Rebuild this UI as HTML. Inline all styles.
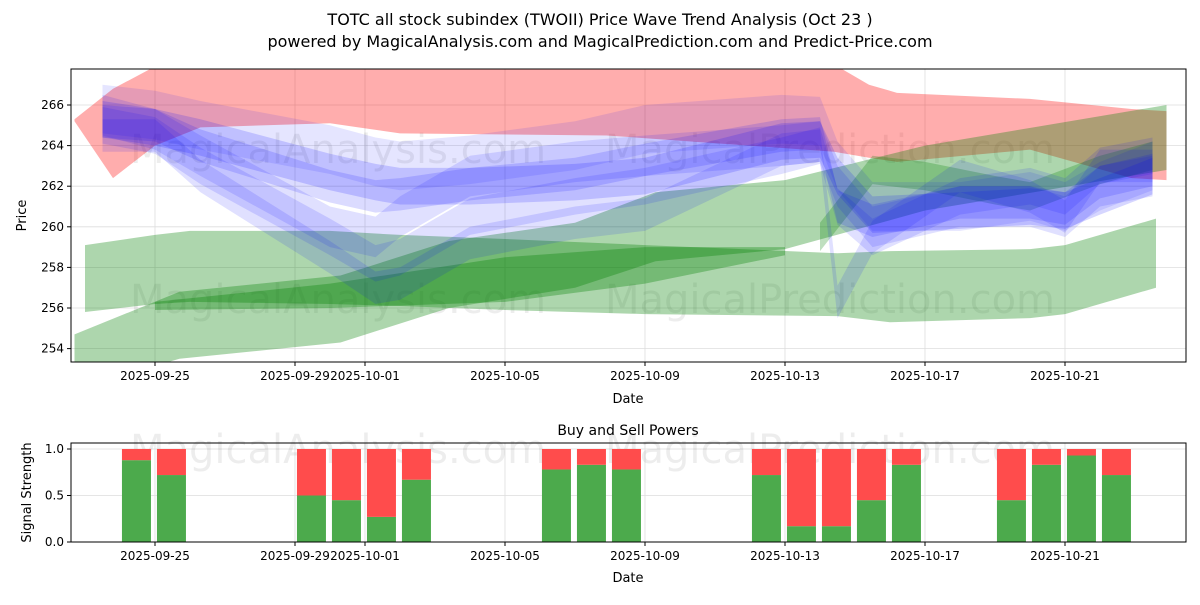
<!DOCTYPE html>
<html><head><meta charset="utf-8"><style>
body{margin:0;background:#fff;font-family:"Liberation Sans","DejaVu Sans",sans-serif;}
svg text{font-family:"DejaVu Sans","Liberation Sans",sans-serif;}
</style></head><body>
<svg id="c" width="1200" height="600" xmlns="http://www.w3.org/2000/svg">
<text x="600" y="25" font-size="16" text-anchor="middle">TOTC all stock subindex (TWOII) Price Wave Trend Analysis (Oct 23 )</text>
<text x="600" y="47" font-size="16" text-anchor="middle">powered by MagicalAnalysis.com and MagicalPrediction.com and Predict-Price.com</text>
<g id="main"></g>
<g id="sub"></g>
</svg>
<script>
// ---- data ----
const xTickLabels=["2025-09-25","2025-09-29","2025-10-01","2025-10-05","2025-10-09","2025-10-13","2025-10-17","2025-10-21"];
const xTickDays=[0,4,6,10,14,18,22,26];
const yTicks=[254,256,258,260,262,264,266];
const redDays=[-2.3,-1.2,0,1.3,5,7,12.9,19.4,20.4,21.2,25,27.9,28.9];
const redUpper=[265.3,266.8,267.9,268,268,268,268,268,267,266.6,266.3,265.8,265.7];
const redLower=[265.2,262.4,264,264.9,265.1,264.6,264.5,263.7,263.4,263.2,263.8,262.4,262.3];
const g1Days=[-2,0,1,5,7,10,14,19.5,21,25,26,28.6];
const g1Upper=[259.1,259.6,259.8,259.8,259.6,259.4,259.1,258.7,258.8,258.9,259.1,260.4];
const g1Lower=[255.8,256.2,256.3,256.2,256.1,255.9,255.7,255.6,255.3,255.5,255.7,257.0];
const g2Days=[-2.3,0.7,5.3,8.4,12,14.3,18,22,28.9];
const g2Upper=[254.7,256.8,257.6,259.3,260.2,261.7,262.3,264,266];
const g2Lower=[252,253.5,254.3,256,257,258.3,258.9,260.8,262.8];
const g3Days=[0,5,10,14,18];
const g3Upper=[256.3,257.2,258.5,259,259];
const g3Lower=[255.9,256.0,256.3,257.2,258.6];
const g4Days=[19,20.5,22,24,25,27,28.5];
const g4Center=[259.5,262.8,262.5,261.8,261.5,262.8,263.5];
const bDays=[-1.5,0,1.3,5,6.3,7,9,12,14,17.9,19,19.5,20.5,23,25,26,27,28.5];
const blue1=[265.3,264.9,264.4,262.7,262.2,262,262,262.2,262.5,264.2,264.3,262.5,260.6,260.8,261,260.8,261.5,262.5];
const blue2=[265.8,265.5,265,263.8,263.2,263,263.3,264,264.8,265.3,265.2,263,261,261,261.5,261,262,263];
const blue3=[265,264.5,263,259.5,258.2,258.5,260.5,261.5,262,263.5,264,261,259.5,261.5,262,261.5,263,263.5];
const blue4=[265.5,264.8,263.5,260,259.5,260.5,262.5,263.2,263.5,264,264.2,262,260,261,261,260.5,262,262.5];
const blue5=[264.5,264.5,262.5,258.5,257,257.2,259.2,260.2,260.6,263.8,264,256.3,259.5,262.5,261.5,260.5,263,263];
const blue6=[265.2,265,264,262,261.5,261.6,262.1,262.6,263.3,264.5,264.6,261,260.3,261.2,261.2,260.9,262.2,262.8];
const barDays=[0,1,5,6,7,8,12,13,14,18,19,20,21,22,25,26,27,28];
const buyVals=[0.88,0.72,0.5,0.45,0.27,0.67,0.78,0.83,0.78,0.72,0.17,0.17,0.45,0.83,0.45,0.83,0.93,0.72];
const subTicks=[0,0.5,1.0];
// ---- axes ----
const L=71,R=1186,T=69,B=362;
const X=d=>155+d*35;
const Y=v=>105+(266-v)*20.3;
const sT=443,sB=542;
const SY=v=>542-v*93;
const NS="http://www.w3.org/2000/svg";
function mk(tag,attrs,parent){const e=document.createElementNS(NS,tag);for(const k in attrs)e.setAttribute(k,attrs[k]);parent.appendChild(e);return e;}
const main=document.getElementById('main'),sub=document.getElementById('sub');
mk('defs',{},main).innerHTML='<clipPath id="cp"><rect x="71" y="69" width="1115" height="293"/></clipPath>';
xTickDays.forEach((d,i)=>{
 let g=mk('line',{x1:X(d),x2:X(d),y1:T,y2:B,stroke:'#ddd','stroke-width':0.8},main);
 
 mk('line',{x1:X(d),x2:X(d),y1:B,y2:B+4,stroke:'#000'},main);
 let t=mk('text',{x:X(d),y:B+18,'font-size':12,'text-anchor':'middle'},main);t.textContent=xTickLabels[i];
 
 let g2=mk('line',{x1:X(d),x2:X(d),y1:sT,y2:sB,stroke:'#ddd','stroke-width':0.8},sub);
 
 mk('line',{x1:X(d),x2:X(d),y1:sB,y2:sB+4,stroke:'#000'},sub);
 let t2=mk('text',{x:X(d),y:sB+18,'font-size':12,'text-anchor':'middle'},sub);t2.textContent=xTickLabels[i];
 
});
yTicks.forEach(v=>{
 let g=mk('line',{x1:L,x2:R,y1:Y(v),y2:Y(v),stroke:'#ddd','stroke-width':0.8},main);
 
 mk('line',{x1:L-4,x2:L,y1:Y(v),y2:Y(v),stroke:'#000'},main);
 let t=mk('text',{x:L-7,y:Y(v)+4,'font-size':12,'text-anchor':'end'},main);t.textContent=v;
 
});
const wm=mk('g',{fill:'#000','fill-opacity':0.07,'font-size':40},main);

wm.innerHTML='<text x="130" y="163">MagicalAnalysis.com</text><text x="605" y="163">MagicalPrediction.com</text><text x="130" y="313">MagicalAnalysis.com</text><text x="605" y="313">MagicalPrediction.com</text>';
const plot=mk('g',{'clip-path':'url(#cp)'},main);
function band(days,up,lo,fill,op,name){
 let pts=days.map((d,i)=>X(d)+','+Y(up[i]));
 for(let i=days.length-1;i>=0;i--)pts.push(X(days[i])+','+Y(lo[i]));
 let p=mk('polygon',{points:pts.join(' '),fill:fill,'fill-opacity':op},plot);
 
}
function cband(days,c,w,fill,op,name){band(days,c.map(v=>v+w),c.map(v=>v-w),fill,op,name);}
band(redDays,redUpper,redLower,'#ff0000',0.32,'red-band');
band(g1Days,g1Upper,g1Lower,'#008000',0.32,'green-band-1');
band(g2Days,g2Upper,g2Lower,'#008000',0.32,'green-band-2');
band(g3Days,g3Upper,g3Lower,'#008000',0.32,'green-band-3');
cband(g4Days,g4Center,0.7,'#008000',0.25,'green-band-4');
[[blue2,1.2,0.1],[blue3,0.9,0.12],[blue4,1.0,0.12],[blue5,0.8,0.12],[blue6,0.8,0.14],[blue1,0.9,0.16]].forEach((b,i)=>cband(bDays,b[0],b[1],'#0000ff',b[2],'blue-band-'+(i+1)));
let fr=mk('rect',{x:L,y:T,width:R-L,height:B-T,fill:'none',stroke:'#000','stroke-width':1},main);

let yl=mk('text',{x:26,y:(T+B)/2,'font-size':13,'text-anchor':'middle',transform:`rotate(-90 26 ${(T+B)/2})`},main);yl.textContent='Price';

let xl=mk('text',{x:628,y:403,'font-size':13,'text-anchor':'middle'},main);xl.textContent='Date';

subTicks.forEach(v=>{
 let g=mk('line',{x1:L,x2:R,y1:SY(v),y2:SY(v),stroke:'#ddd','stroke-width':0.8},sub);
 
 mk('line',{x1:L-4,x2:L,y1:SY(v),y2:SY(v),stroke:'#000'},sub);
 let t=mk('text',{x:L-7,y:SY(v)+4,'font-size':12,'text-anchor':'end'},sub);t.textContent=v.toFixed(1);
 
});
const wm2=mk('g',{fill:'#000','fill-opacity':0.07,'font-size':40},sub);

wm2.innerHTML='<text x="130" y="463">MagicalAnalysis.com</text><text x="605" y="463">MagicalPrediction.com</text>';
barDays.forEach((d,i)=>{
 const cx=X(d-0.53),w=29,b=buyVals[i];
 let g=mk('rect',{x:cx-w/2,y:SY(b),width:w,height:SY(0)-SY(b),fill:'#4caa4c'},sub);
 
 let r=mk('rect',{x:cx-w/2,y:SY(1),width:w,height:SY(b)-SY(1),fill:'#ff4c4c'},sub);
 
});
let fr2=mk('rect',{x:L,y:sT,width:R-L,height:sB-sT,fill:'none',stroke:'#000','stroke-width':1},sub);

let st=mk('text',{x:628,y:435,'font-size':14,'text-anchor':'middle'},sub);st.textContent='Buy and Sell Powers';

let yl2=mk('text',{x:31,y:(sT+sB)/2,'font-size':13,'text-anchor':'middle',transform:`rotate(-90 31 ${(sT+sB)/2})`},sub);yl2.textContent='Signal Strength';

let xl2=mk('text',{x:628,y:582,'font-size':13,'text-anchor':'middle'},sub);xl2.textContent='Date';

</script>
</body></html>
